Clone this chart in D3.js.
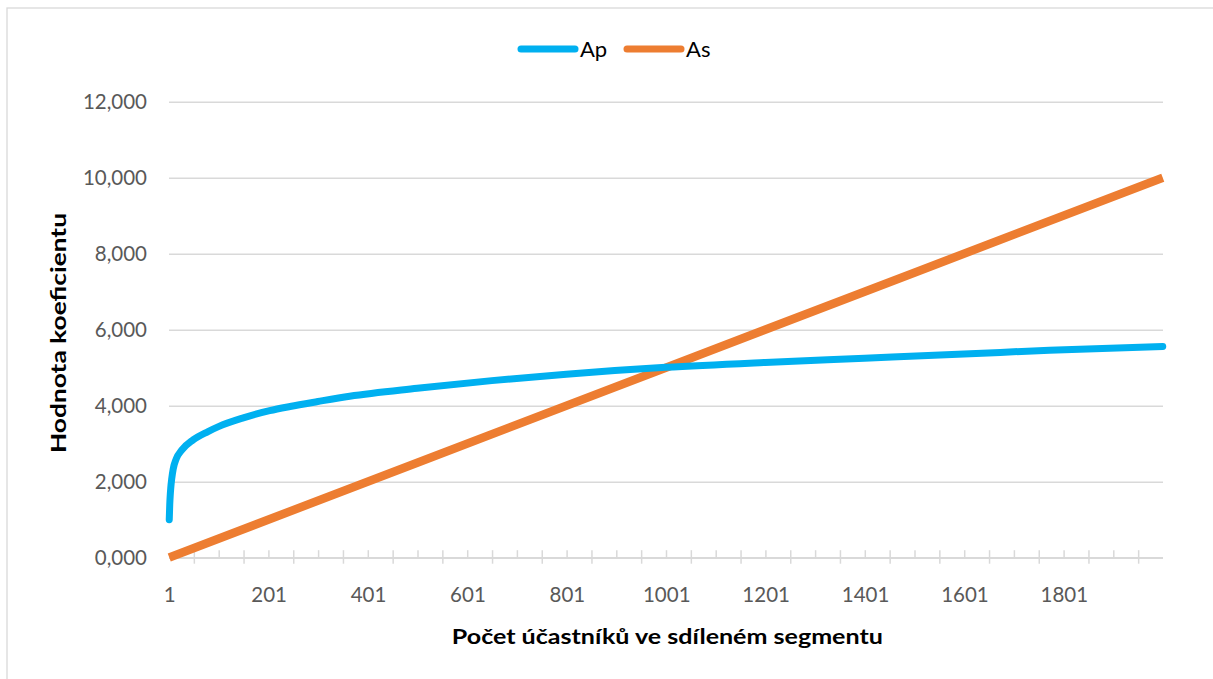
<!DOCTYPE html>
<html>
<head>
<meta charset="utf-8">
<script src="https://cdn.jsdelivr.net/npm/d3@7"></script>
<style>
  body { margin: 0; background: #fff; }
  .axis text { font-family: Lato, "Open Sans", sans-serif; fill: #595959; }
  .axis path { display: none; }
</style>
</head>
<body>
<div id="the_chart"></div>
<script>
// number of participants (category index) and coefficient values
var apN = [1, 2, 3, 4, 6, 9, 15, 26, 49, 79, 100, 150, 203, 244, 300, 364, 500, 650, 800, 1000, 1200, 1400, 1600, 1772, 2000];
var apVal = [1.00, 1.40, 1.65, 1.83, 2.08, 2.34, 2.60, 2.83, 3.10, 3.32, 3.45, 3.68, 3.87, 3.98, 4.11, 4.25, 4.46, 4.66, 4.83, 5.01, 5.14, 5.25, 5.36, 5.46, 5.56];
var asN = [1, 500, 1000, 1500, 2000];
var asVal = [0.005, 2.5, 5.0, 7.5, 10.0];
var nCats = 2000;
var xLabels = [1, 201, 401, 601, 801, 1001, 1201, 1401, 1601, 1801];
var yTicks = [0, 2, 4, 6, 8, 10, 12];
var seriesNames = ["Ap", "As"];
var colors = ["#00b0f0", "#ed7d31"];

var w = 1213, h = 679;
var pLeft = 169, pRight = 1163, pTop = 101.7, pBottom = 557.7;

var svg = d3.select("#the_chart").append("svg")
            .attr("width", w).attr("height", h);

// chart frame
svg.append("rect").attr("x", 7).attr("y", 8)
   .attr("width", w + 20).attr("height", h + 20)
   .attr("fill", "#fff").attr("stroke", "#d9d9d9").attr("stroke-width", 1.3);

var xscale = d3.scaleLinear().domain([0.5, nCats + 0.5]).range([pLeft, pRight]);
var yscale = d3.scaleLinear().domain([0, 12]).range([pBottom, pTop]);

var cz = d3.formatLocale({decimal: ",", thousands: " ", grouping: [3], currency: ["", " Kč"]});

// y axis + gridlines
var yaxis = d3.axisLeft(yscale).tickValues(yTicks)
              .tickFormat(cz.format(".3f"))
              .tickSize(-(pRight - pLeft)).tickPadding(22);
var gy = svg.append("g").attr("class", "axis").attr("transform", "translate(" + pLeft + ",0)").call(yaxis);
gy.selectAll("line").attr("stroke", "#d9d9d9").attr("stroke-width", 1.5);
gy.selectAll("text").style("font-size", "20.5px");

// x axis tick marks (every 50 categories)
var bounds = d3.range(50, nCats, 50).map(function (d) { return d + 0.5; });
var crossB = bounds.filter(function (d, i) { return i % 2 === 0; });
var upB = bounds.filter(function (d, i) { return i % 2 === 1; });
var gxc = svg.append("g").attr("class", "axis").attr("transform", "translate(0," + pBottom + ")")
   .call(d3.axisBottom(xscale).tickValues(crossB).tickFormat(""));
gxc.selectAll("line").attr("y1", -7.5).attr("y2", 6).attr("stroke", "#d9d9d9").attr("stroke-width", 1.5);
var gxu = svg.append("g").attr("class", "axis").attr("transform", "translate(0," + pBottom + ")")
   .call(d3.axisBottom(xscale).tickValues(upB).tickFormat(""));
gxu.selectAll("line").attr("y1", -7.5).attr("y2", 0).attr("stroke", "#d9d9d9").attr("stroke-width", 1.5);

svg.append("line").attr("x1", pLeft).attr("x2", pRight).attr("y1", pBottom).attr("y2", pBottom)
   .attr("stroke", "#d9d9d9").attr("stroke-width", 1.5);

// x labels
var gx = svg.append("g").attr("class", "axis").attr("transform", "translate(0," + pBottom + ")")
   .call(d3.axisBottom(xscale).tickValues(xLabels).tickFormat(d3.format("d")).tickSize(0).tickPadding(30));
gx.selectAll("text").style("font-size", "20.5px");

// lines
var line = d3.line()
   .x(function (d) { return xscale(d[0]); })
   .y(function (d) { return yscale(d[1]); });

var apData = apN.map(function (n, i) { return [n, apVal[i]]; });
var asData = asN.map(function (n, i) { return [n, asVal[i]]; });

svg.append("path").datum(asData).attr("d", line.curve(d3.curveLinear))
   .attr("fill", "none").attr("stroke", colors[1]).attr("stroke-width", 8.5).attr("stroke-linecap", "butt");
svg.append("path").datum(apData).attr("d", line.curve(d3.curveMonotoneX))
   .attr("fill", "none").attr("stroke", colors[0]).attr("stroke-width", 7).attr("stroke-linecap", "round");

// legend
var legX = [518, 624];
seriesNames.forEach(function (name, i) {
  svg.append("line").attr("x1", legX[i] + 3).attr("x2", legX[i] + 57)
     .attr("y1", 49).attr("y2", 49)
     .attr("stroke", colors[i]).attr("stroke-width", 7).attr("stroke-linecap", "round");
  svg.append("text").attr("x", legX[i] + 62).attr("y", 49).attr("dy", "0.36em")
     .style("font-family", "Lato, sans-serif").style("font-size", "22px").attr("fill", "#000")
     .text(name);
});

// axis titles
svg.append("text").attr("x", (451.7 + 883) / 2).attr("y", 636).attr("dy", "0.36em")
   .attr("text-anchor", "middle").attr("textLength", 431).attr("lengthAdjust", "spacingAndGlyphs")
   .style("font-family", "Lato, sans-serif").style("font-weight", "bold").style("font-size", "21px")
   .text("Počet účastníků ve sdíleném segmentu");
svg.append("text").attr("transform", "translate(58,333) rotate(-90)").attr("dy", "0.36em")
   .attr("text-anchor", "middle").attr("textLength", 240).attr("lengthAdjust", "spacingAndGlyphs")
   .style("font-family", "Lato, sans-serif").style("font-weight", "bold").style("font-size", "21px")
   .text("Hodnota koeficientu");
</script>
</body>
</html>
